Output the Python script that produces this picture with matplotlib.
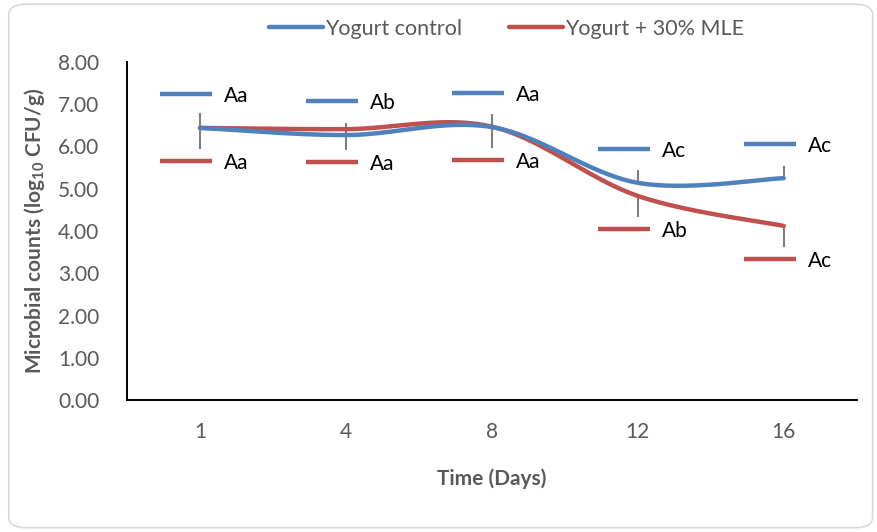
import numpy as np
import matplotlib.pyplot as plt
import matplotlib.transforms as mtransforms
from matplotlib.patches import FancyBboxPatch

plt.rcParams['font.family'] = ['Lato', 'DejaVu Sans']
plt.rcParams['mathtext.fontset'] = 'custom'
plt.rcParams['mathtext.rm'] = 'Lato'
plt.rcParams['mathtext.bf'] = 'Lato:bold'

days = ['1', '4', '8', '12', '16']
control = [6.44, 6.27, 6.46, 5.14, 5.25]
mle = [6.44, 6.41, 6.47, 4.83, 4.12]
control_err = [0.36, 0.28, 0.31, 0.31, 0.28]
mle_err = [0.50, 0.50, 0.50, 0.50, 0.50]
control_lbl = ['Aa', 'Ab', 'Aa', 'Ac', 'Ac']
mle_lbl = ['Aa', 'Aa', 'Aa', 'Ab', 'Ac']

blue = '#4F81BD'
red = '#C0504D'
grey = '#595959'


def smooth(y, n=40):
    # Excel-style smoothed line (Catmull-Rom as cubic Bezier)
    x = np.arange(len(y), dtype=float)
    p = np.column_stack([x, y])
    out = []
    for i in range(len(p) - 1):
        p0 = p[i - 1] if i > 0 else p[i]
        p3 = p[i + 2] if i + 2 < len(p) else p[i + 1]
        c1 = p[i] + (p[i + 1] - p0) / 6
        c2 = p[i + 1] - (p3 - p[i]) / 6
        t = np.linspace(0, 1, n)[:, None]
        seg = ((1 - t) ** 3 * p[i] + 3 * (1 - t) ** 2 * t * c1
               + 3 * (1 - t) * t ** 2 * c2 + t ** 3 * p[i + 1])
        out.append(seg)
    s = np.vstack(out)
    return s[:, 0], s[:, 1]


fig = plt.figure(figsize=(8.77, 5.32), dpi=100)
fig.patches.append(FancyBboxPatch((0.01, 0.008), 0.985, 0.984,
                                  boxstyle='round,pad=0,rounding_size=0.02',
                                  transform=fig.transFigure, fc='white',
                                  ec='#d9d9d9', lw=1.2, zorder=-10))
ax = fig.add_axes([0.1448, 0.2481, 0.832, 0.6354])
ax.patch.set_alpha(0)
x = np.arange(len(days))

xs, ys = smooth(control)
ax.plot(xs, ys, color=blue, lw=3.2, label='Yogurt control', zorder=3,
        solid_capstyle='round')
xs, ys = smooth(mle)
ax.plot(xs, ys, color=red, lw=3.2, label='Yogurt + 30% MLE', zorder=2,
        solid_capstyle='round')

ax.errorbar(x, control, yerr=[np.zeros(len(x)), control_err], fmt='none',
            ecolor='#808080', elinewidth=1.5, capsize=0, zorder=1)
ax.errorbar(x, mle, yerr=[mle_err, np.zeros(len(x))], fmt='none',
            ecolor='#808080', elinewidth=1.5, capsize=0, zorder=1)

# data labels with legend keys
for vals, lbls, col, dy in [(control, control_lbl, blue, 34),
                            (mle, mle_lbl, red, -33)]:
    for xi, v, lb in zip(x, vals, lbls):
        tr = mtransforms.offset_copy(ax.transData, fig=fig, x=-14, y=dy,
                                     units='dots')
        ax.plot([xi], [v], transform=tr, marker='_', ms=38, mew=3.2,
                color=col, clip_on=False)
        ax.annotate(lb, (xi, v), xytext=(24, dy - 2),
                    textcoords='offset pixels',
                    ha='left', va='center', fontsize=15, color='black')

ax.set_xlim(-0.5, 4.5)
ax.set_ylim(0, 8)
ax.set_xticks(x)
ax.set_xticklabels(days)
ax.set_yticks(np.arange(0, 9, 1))
ax.set_yticklabels([f'{v:.2f}' for v in range(9)])
ax.tick_params(length=0, labelsize=15, colors=grey)
ax.tick_params(axis='y', pad=20)
ax.tick_params(axis='x', pad=16)
for s in ['top', 'right']:
    ax.spines[s].set_visible(False)
for s in ['left', 'bottom']:
    ax.spines[s].set_color('black')
    ax.spines[s].set_linewidth(1.4)

ax.set_xlabel('Time (Days)', fontsize=15, fontweight='bold', color=grey,
              labelpad=19)
ax.set_ylabel(r'Microbial counts (log$_{\mathbf{10}}$ CFU/g)', fontsize=15,
              fontweight='bold', color=grey, labelpad=8)

ax.legend(loc='upper center', bbox_to_anchor=(0.52, 1.185), ncol=2,
          frameon=False, fontsize=15.5, labelcolor=grey, handlelength=2.5,
          handletextpad=0.1, columnspacing=2.2)

fig.savefig('out.png', dpi=100)
